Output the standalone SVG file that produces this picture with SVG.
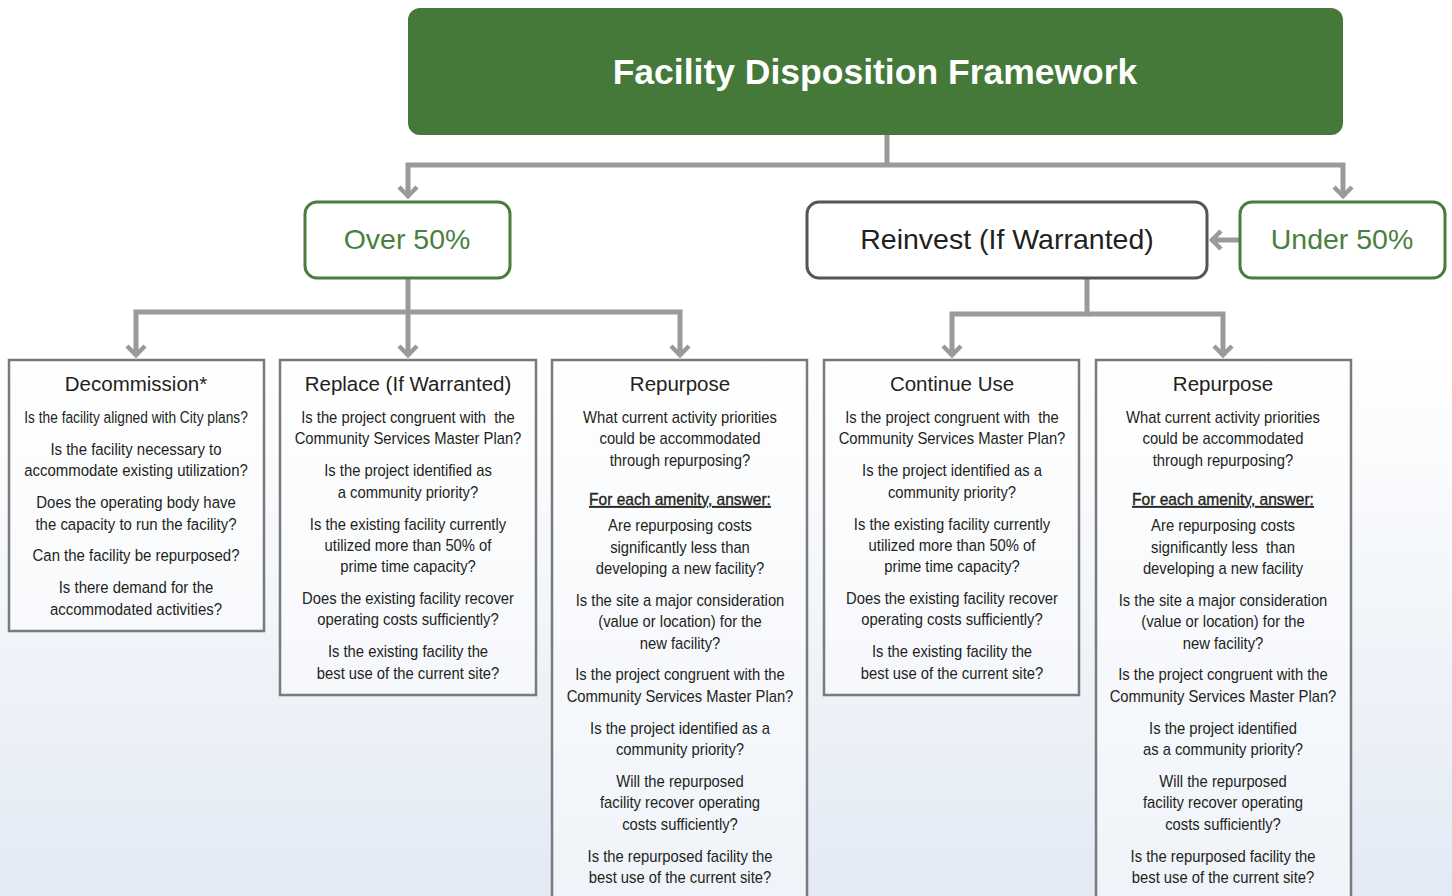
<svg xmlns="http://www.w3.org/2000/svg" width="1452" height="896" viewBox="0 0 1452 896">
<defs>
<linearGradient id="bg" x1="0" y1="0" x2="0" y2="1">
<stop offset="0" stop-color="#ffffff"/>
<stop offset="0.4" stop-color="#ffffff"/>
<stop offset="1" stop-color="#e3eaf4"/>
</linearGradient>
<marker id="arr" markerUnits="userSpaceOnUse" markerWidth="30" markerHeight="30" viewBox="-15 -15 30 30" refX="0" refY="0" orient="auto">
<path d="M-10,-9 L-1,0 L-10,9" fill="none" stroke="#9a9a9a" stroke-width="4.5" stroke-linejoin="miter"/>
</marker>
<style>
.conn{fill:none;stroke:#9a9a9a;stroke-width:5;marker-end:url(#arr)}
.seg{fill:none;stroke:#9a9a9a;stroke-width:5}
.gbox{fill:#ffffff;stroke:#4a7d3c;stroke-width:3}
.dbox{fill:#ffffff;stroke:#555555;stroke-width:3}
.qbox{fill:#ffffff;fill-opacity:0.45;stroke:#7a7a7a;stroke-width:2.5}
.lab{font-family:"Liberation Sans",Arial,sans-serif;font-size:28.5px;text-anchor:middle}
.hd{font-family:"Liberation Sans",Arial,sans-serif;font-size:20.5px;fill:#231f20;text-anchor:middle}
.bt{font-family:"Liberation Sans",Arial,sans-serif;font-size:17px;fill:#231f20;text-anchor:middle}
.ul{text-decoration:underline;stroke:#231f20;stroke-width:0.35}
</style>
</defs>
<rect x="0" y="0" width="1452" height="896" fill="url(#bg)"/>

<g id="connectors">
<path class="seg" d="M887,135 V165"/>
<path class="conn" d="M887,165 H408 V197"/>
<path class="conn" d="M887,165 H1343 V197"/>
<path class="conn" d="M1240,240 H1211"/>
<path class="conn" d="M408,278 V312 H136 V356"/>
<path class="conn" d="M408,312 V356"/>
<path class="conn" d="M408,312 H680 V356"/>
<path class="conn" d="M1087,278 V314 H952 V356"/>
<path class="conn" d="M1087,314 H1223 V356"/>
</g>

<g id="title">
<rect x="408" y="8" width="935" height="127" rx="12" fill="#45793a"/>
<text x="875" y="84" font-family="'Liberation Sans',Arial,sans-serif" font-size="35.5" font-weight="bold" fill="#ffffff" text-anchor="middle">Facility Disposition Framework</text>
</g>

<g id="over50">
<rect class="gbox" x="305" y="202" width="205" height="76" rx="12"/>
<text class="lab" x="407" y="249" fill="#4b7f3d">Over 50%</text>
</g>

<g id="reinvest">
<rect class="dbox" x="807" y="202" width="400" height="76" rx="12"/>
<text class="lab" x="1007" y="249" fill="#231f20">Reinvest (If Warranted)</text>
</g>

<g id="under50">
<rect class="gbox" x="1240" y="202" width="205" height="76" rx="12"/>
<text class="lab" x="1342" y="249" fill="#4b7f3d">Under 50%</text>
</g>

<g id="decommission">
<rect class="qbox" x="9" y="360" width="255" height="271"/>
<text class="hd" x="136" y="391">Decommission*</text>
<g transform="translate(136 0) scale(0.88 1)">
<text class="bt" x="0" y="423" textLength="254" lengthAdjust="spacingAndGlyphs">Is the facility aligned with City plans?</text>
<text class="bt" x="0" y="455">Is the facility necessary to</text>
<text class="bt" x="0" y="476">accommodate existing utilization?</text>
<text class="bt" x="0" y="508">Does the operating body have</text>
<text class="bt" x="0" y="530">the capacity to run the facility?</text>
<text class="bt" x="0" y="561">Can the facility be repurposed?</text>
<text class="bt" x="0" y="593">Is there demand for the</text>
<text class="bt" x="0" y="615">accommodated activities?</text>
</g>
</g>

<g id="replace">
<rect class="qbox" x="280" y="360" width="256" height="335"/>
<text class="hd" x="408" y="391">Replace (If Warranted)</text>
<g transform="translate(408 0) scale(0.87 1)">
<text class="bt" x="0" y="423" xml:space="preserve">Is the project congruent with  the</text>
<text class="bt" x="0" y="444">Community Services Master Plan?</text>
<text class="bt" x="0" y="476">Is the project identified as</text>
<text class="bt" x="0" y="498">a community priority?</text>
<text class="bt" x="0" y="530">Is the existing facility currently</text>
<text class="bt" x="0" y="551">utilized more than 50% of</text>
<text class="bt" x="0" y="572">prime time capacity?</text>
<text class="bt" x="0" y="604">Does the existing facility recover</text>
<text class="bt" x="0" y="625">operating costs sufficiently?</text>
<text class="bt" x="0" y="657">Is the existing facility the</text>
<text class="bt" x="0" y="679">best use of the current site?</text>
</g>
</g>

<g id="repurpose1">
<rect class="qbox" x="552" y="360" width="255" height="560"/>
<text class="hd" x="680" y="391">Repurpose</text>
<g transform="translate(680 0) scale(0.87 1)">
<text class="bt" x="0" y="423">What current activity priorities</text>
<text class="bt" x="0" y="444">could be accommodated</text>
<text class="bt" x="0" y="466">through repurposing?</text>
<text class="bt ul" x="0" y="505" textLength="209" lengthAdjust="spacingAndGlyphs">For each amenity, answer:</text>
<text class="bt" x="0" y="531">Are repurposing costs</text>
<text class="bt" x="0" y="553">significantly less than</text>
<text class="bt" x="0" y="574">developing a new facility?</text>
<text class="bt" x="0" y="606">Is the site a major consideration</text>
<text class="bt" x="0" y="627">(value or location) for the</text>
<text class="bt" x="0" y="649">new facility?</text>
<text class="bt" x="0" y="680">Is the project congruent with the</text>
<text class="bt" x="0" y="702">Community Services Master Plan?</text>
<text class="bt" x="0" y="734">Is the project identified as a</text>
<text class="bt" x="0" y="755">community priority?</text>
<text class="bt" x="0" y="787">Will the repurposed</text>
<text class="bt" x="0" y="808">facility recover operating</text>
<text class="bt" x="0" y="830">costs sufficiently?</text>
<text class="bt" x="0" y="862">Is the repurposed facility the</text>
<text class="bt" x="0" y="883">best use of the current site?</text>
</g>
</g>

<g id="continue">
<rect class="qbox" x="824" y="360" width="255" height="335"/>
<text class="hd" x="952" y="391">Continue Use</text>
<g transform="translate(952 0) scale(0.87 1)">
<text class="bt" x="0" y="423" xml:space="preserve">Is the project congruent with  the</text>
<text class="bt" x="0" y="444">Community Services Master Plan?</text>
<text class="bt" x="0" y="476">Is the project identified as a</text>
<text class="bt" x="0" y="498">community priority?</text>
<text class="bt" x="0" y="530">Is the existing facility currently</text>
<text class="bt" x="0" y="551">utilized more than 50% of</text>
<text class="bt" x="0" y="572">prime time capacity?</text>
<text class="bt" x="0" y="604">Does the existing facility recover</text>
<text class="bt" x="0" y="625">operating costs sufficiently?</text>
<text class="bt" x="0" y="657">Is the existing facility the</text>
<text class="bt" x="0" y="679">best use of the current site?</text>
</g>
</g>

<g id="repurpose2">
<rect class="qbox" x="1096" y="360" width="255" height="560"/>
<text class="hd" x="1223" y="391">Repurpose</text>
<g transform="translate(1223 0) scale(0.87 1)">
<text class="bt" x="0" y="423">What current activity priorities</text>
<text class="bt" x="0" y="444">could be accommodated</text>
<text class="bt" x="0" y="466">through repurposing?</text>
<text class="bt ul" x="0" y="505" textLength="209" lengthAdjust="spacingAndGlyphs">For each amenity, answer:</text>
<text class="bt" x="0" y="531">Are repurposing costs</text>
<text class="bt" x="0" y="553" xml:space="preserve">significantly less  than</text>
<text class="bt" x="0" y="574">developing a new facility</text>
<text class="bt" x="0" y="606">Is the site a major consideration</text>
<text class="bt" x="0" y="627">(value or location) for the</text>
<text class="bt" x="0" y="649">new facility?</text>
<text class="bt" x="0" y="680">Is the project congruent with the</text>
<text class="bt" x="0" y="702">Community Services Master Plan?</text>
<text class="bt" x="0" y="734">Is the project identified</text>
<text class="bt" x="0" y="755">as a community priority?</text>
<text class="bt" x="0" y="787">Will the repurposed</text>
<text class="bt" x="0" y="808">facility recover operating</text>
<text class="bt" x="0" y="830">costs sufficiently?</text>
<text class="bt" x="0" y="862">Is the repurposed facility the</text>
<text class="bt" x="0" y="883">best use of the current site?</text>
</g>
</g>
</svg>
